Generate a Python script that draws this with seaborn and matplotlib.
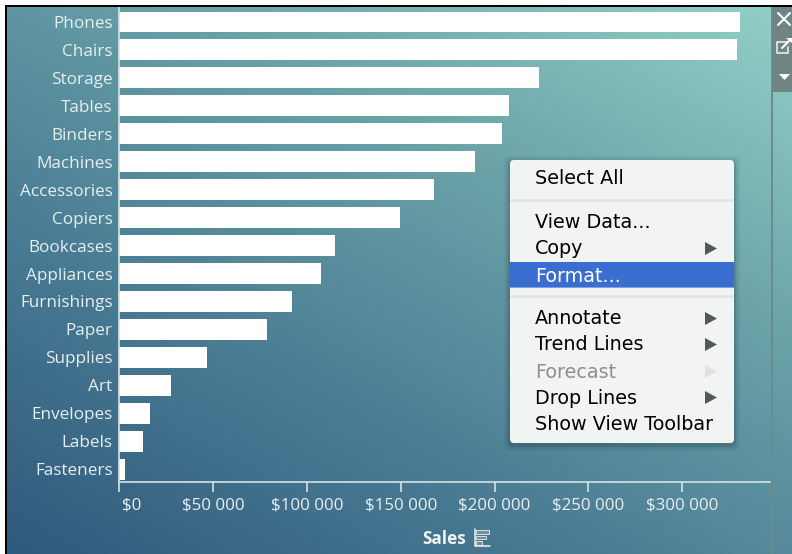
import numpy as np
import pandas as pd
import seaborn as sns
import matplotlib
matplotlib.use("Agg")
import matplotlib.pyplot as plt
from matplotlib.colors import LinearSegmentedColormap
from matplotlib.patches import FancyBboxPatch, Rectangle, Polygon
from matplotlib.transforms import ScaledTranslation

categories = ["Phones", "Chairs", "Storage", "Tables", "Binders", "Machines", "Accessories",
              "Copiers", "Bookcases", "Appliances", "Furnishings", "Paper", "Supplies", "Art",
              "Envelopes", "Labels", "Fasteners"]
sales = [331000, 329500, 223500, 207500, 203800, 189500, 167500, 149500, 114800, 107300,
         91800, 78500, 46500, 27200, 16200, 12300, 2800]
x_ticks = [0, 50000, 100000, 150000, 200000, 250000, 300000]
x_labels = ["$0", "$50 000", "$100 000", "$150 000", "$200 000", "$250 000", "$300 000"]

menu_items = [("Select All", 179, False, "black"), ("View Data...", 223, False, "black"),
              ("Copy", 249, True, "black"), ("Format...", 276, False, "white"),
              ("Annotate", 319, True, "black"), ("Trend Lines", 345, True, "black"),
              ("Forecast", 372, True, "#8e8f8f"), ("Drop Lines", 398, True, "black"),
              ("Show View Toolbar", 424, False, "black")]

W, H = 792, 554
sns.set_theme(style="white")
plt.rcParams["font.family"] = ["Open Sans", "DejaVu Sans"]
fig = plt.figure(figsize=(W / 100, H / 100), dpi=100, facecolor="white")

def px_axes(left, top, right, bottom, **kw):
    return fig.add_axes([left / W, 1 - bottom / H, (right - left) / W, (bottom - top) / H], **kw)

# gradient background, dark bottom left to teal top right
bg = px_axes(7, 7, W, H)
bg.axis("off")
cmap = LinearSegmentedColormap.from_list("bg", ["#2f5a7c", "#4a7c94", "#6ba3a9", "#93d0c8"])
xx, yy = np.meshgrid(np.linspace(0, 1, 200), np.linspace(0, 1, 200))
bg.imshow((xx * 0.45 + yy * 0.55), cmap=cmap, origin="lower", aspect="auto", vmin=0, vmax=1)

# the bars
ax = px_axes(119.5, 7, 770, 482)
ax.patch.set_alpha(0)
df = pd.DataFrame({"Category": categories, "Sales": sales})
sns.barplot(data=df, x="Sales", y="Category", orient="h", color="white", width=0.75,
            saturation=1, linewidth=0, ax=ax)
ax.set_xlim(0, 346900)
ax.set_ylim(16.46, -0.537)
ax.set_xticks(x_ticks)
ax.set_xticklabels(x_labels, fontsize=12.2, color="#e6eff0")
ax.set_xlabel("")
ax.set_ylabel("")
ax.tick_params(axis="x", length=7, width=1.2, color="#d5e3e5", pad=4, bottom=True)
ax.tick_params(axis="y", length=0, pad=5, labelsize=12.3, labelcolor="#e6eff0")
for s in ["top", "right"]:
    ax.spines[s].set_visible(False)
for s in ["left", "bottom"]:
    ax.spines[s].set_color("#d5e3e5")
    ax.spines[s].set_linewidth(1.2)
first = ax.get_xticklabels()[0]
first.set_ha("left")
first.set_transform(first.get_transform() + ScaledTranslation(2.5 / 100, 0, fig.dpi_scale_trans))

# overlay in pixel coordinates for the window chrome and the menu
ov = px_axes(0, 0, W, H)
ov.set_xlim(0, W)
ov.set_ylim(H, 0)
ov.axis("off")
ov.patch.set_alpha(0)

ov.add_patch(Rectangle((5, 5), 2, H - 5, color="black", lw=0))
ov.add_patch(Rectangle((5, 5), W - 5, 2, color="black", lw=0))
ov.add_patch(Rectangle((771, 7), 2, H - 7, color="#6f8a8d", lw=0))
ov.add_patch(Rectangle((773, 7), W - 773, 85, color="#6f8483", lw=0))

# toolbar icons
ov.plot([778, 790], [13, 25], color="white", lw=1.5)
ov.plot([778, 790], [25, 13], color="white", lw=1.5)
ov.plot([788, 777, 777, 788, 788], [42, 42, 53, 53, 47], color="#e8eeee", lw=1.2)
ov.plot([782, 791], [48, 39], color="white", lw=1.5)
ov.add_patch(Polygon([[786, 38], [792, 38], [792, 43]], color="white", lw=0))
ov.add_patch(Polygon([[779, 74], [790, 74], [784.5, 80]], color="white", lw=0))

# x axis title with the sort icon
ov.text(444.5, 538.5, "Sales", ha="center", va="center", fontsize=12.3, fontweight="bold", color="#eef4f4")
ov.plot([475, 475, 490], [529, 545.5, 545.5], color="#f0f4f4", lw=1.1)
for y, x1 in [(530, 489), (535.5, 486), (541, 482)]:
    ov.add_patch(Rectangle((476, y), x1 - 476, 3.5, fc="#7f8c92", ec="#e6eff0", lw=0.6))

# context menu
for grow, alpha in [(6, 0.04), (4, 0.06), (2, 0.1)]:
    ov.add_patch(FancyBboxPatch((510 - grow, 160 - grow + 2), 224 + 2 * grow, 283 + 2 * grow,
                                boxstyle="round,pad=0,rounding_size=6", fc="black", ec="none", alpha=alpha))
ov.add_patch(FancyBboxPatch((510, 160), 224, 283, boxstyle="round,pad=0,rounding_size=4",
                            fc="#f2f4f4", ec="none"))
ov.add_patch(Rectangle((510, 199), 224, 3, color="#e4e6e6", lw=0))
ov.add_patch(Rectangle((510, 295), 224, 3, color="#e4e6e6", lw=0))
ov.add_patch(Rectangle((510, 262), 224, 26, color="#3a6dd0", lw=0))
ov.add_patch(Rectangle((510, 287), 224, 1.2, color="#7ba3e6", lw=0))
for label, y, arrow, col in menu_items:
    ov.text(535, y, label, ha="left", va="center", fontsize=13.8, color=col, family="DejaVu Sans")
    if arrow:
        tri = "#e0e1e1" if label == "Forecast" else "#555858"
        ov.add_patch(Polygon([[705, y - 7], [705, y + 6], [717, y - 0.5]], color=tri, lw=0))

fig.savefig("out.png", dpi=100, facecolor="white")
